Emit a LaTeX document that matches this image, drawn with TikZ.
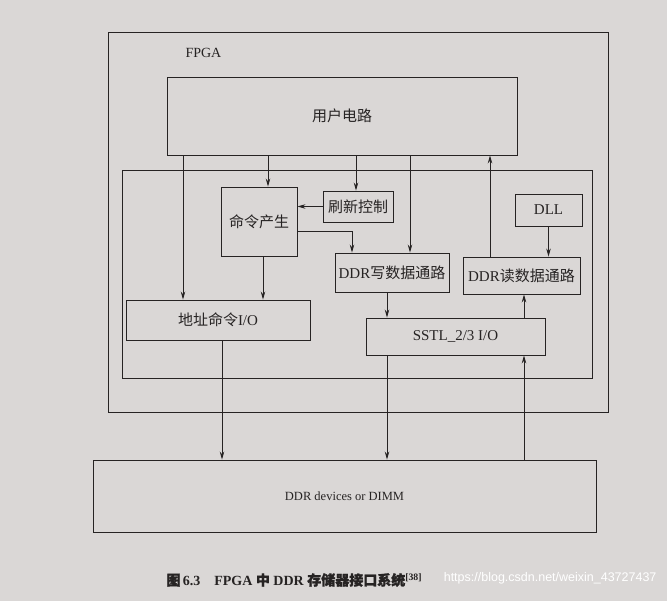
\documentclass[tikz,border=0pt]{standalone}
\usepackage{fontspec}
\setmainfont{Liberation Serif}
\newfontfamily\cjk{Noto Sans CJK SC}
\newfontfamily\cjkcap[FakeBold=1.5]{Noto Sans CJK SC}
\newfontfamily\markfont{Liberation Sans}
\usepackage{xcolor}
\usepackage{tikz}
\usetikzlibrary{positioning, arrows.meta, calc}

\definecolor{paper}{RGB}{218,215,214}
\definecolor{ink}{RGB}{38,35,35}

\tikzset{
  blk/.style={draw=ink, line width=0.9pt, inner sep=0pt, text=ink,
              font=\fontsize{15}{17}\selectfont},
  arr/.style={draw=ink, line width=0.9pt, -{Stealth[length=8pt, width=4.5pt]}},
}

\begin{document}
\begin{tikzpicture}[x=1pt, y=-1pt]

  %% ── Page ───────────────────────────────────────────────────
  \fill[paper] (0,0) rectangle (667,601);
  \useasboundingbox (0,0) rectangle (667,601);

  %% ── Frames ─────────────────────────────────────────────────
  \node[blk, minimum width=500, minimum height=380] (fpga) at (358,222) {};
  \node[font=\fontsize{14}{16}\selectfont, text=ink, anchor=west]
    (fpgalbl) at (182,53) {FPGA};
  \node[blk, minimum width=350, minimum height=78] (user) at (342,116)
    {\cjk 用户电路};
  \node[blk, minimum width=470, minimum height=208] (core) at (357,274) {};

  %% ── Blocks inside the controller ───────────────────────────
  \node[blk, minimum width=76, minimum height=69] (cmd) at (259,221.5)
    {\cjk 命令产生};
  \node[blk, minimum width=70, minimum height=31] (refresh) at (358,206.5)
    {\cjk 刷新控制};
  \node[blk, minimum width=114, minimum height=39] (wr) at (392,272.5)
    {DDR{\cjk 写数据通路}};
  \node[blk, minimum width=67, minimum height=32] (dll) at (548.5,210)
    {DLL};
  \node[blk, minimum width=117, minimum height=37] (rd) at (521.5,275.5)
    {DDR{\cjk 读数据通路}};
  \node[blk, minimum width=184, minimum height=40] (addr) at (218,320)
    {{\cjk 地址命令}I/O};
  \node[blk, minimum width=179, minimum height=37] (sstl) at (455.5,336.5)
    {SSTL\_2/3 I/O};

  %% ── Memory ─────────────────────────────────────────────────
  \node[blk, minimum width=503, minimum height=72,
        font=\fontsize{12.5}{15}\selectfont] (ddr) at (344.5,496)
    {DDR devices or DIMM};

  %% ── Wire columns ───────────────────────────────────────────
  \coordinate (ka) at (183,0);   % user -> addr
  \coordinate (kb) at (268,0);   % user -> cmd
  \coordinate (kc) at (356,0);   % user -> refresh
  \coordinate (kd) at (410,0);   % user -> wr
  \coordinate (ke) at (490,0);   % rd -> user
  \coordinate (kf) at (0,231);   % cmd -> wr (row)
  \coordinate (kg) at (352,0);   % cmd -> wr (column)
  \coordinate (kh) at (263,0);   % cmd -> addr
  \coordinate (ki) at (387,0);   % write path
  \coordinate (kj) at (524,0);   % read path
  \coordinate (kk) at (222,0);   % addr -> ddr

  %% ── Connectors ─────────────────────────────────────────────
  \draw[arr] (user.south -| ka) -- (addr.north -| ka);
  \draw[arr] (user.south -| kb) -- (cmd.north -| kb);
  \draw[arr] (user.south -| kc) -- (refresh.north -| kc);
  \draw[arr] (user.south -| kd) -- (wr.north -| kd);
  \draw[arr] (rd.north -| ke) -- (user.south -| ke);
  \draw[arr] (refresh.west) -- (cmd.east |- refresh.west);
  \draw[arr] (cmd.east |- kf) -| (wr.north -| kg);
  \draw[arr] (cmd.south -| kh) -- (addr.north -| kh);
  \draw[arr] (dll.south) -- (rd.north -| dll.south);
  \draw[arr] (wr.south -| ki) -- (sstl.north -| ki);
  \draw[arr] (sstl.north -| kj) -- (rd.south -| kj);
  \draw[arr] (addr.south -| kk) -- (ddr.north -| kk);
  \draw[arr] (sstl.south -| ki) -- (ddr.north -| ki);
  \draw[arr] (ddr.north -| kj) -- (sstl.south -| kj);

  %% ── Caption ────────────────────────────────────────────────
  \node[anchor=west, text=ink, font=\fontsize{14}{16}\selectfont\bfseries]
    (caption) at (163,580)
    {{\cjkcap 图}\,6.3\quad FPGA {\cjkcap 中} DDR {\cjkcap 存储器接口系统}\textsuperscript{[38]}};
  \node[anchor=east, text=white, font=\markfont\fontsize{12.5}{15}\selectfont]
    (mark) at (660,578) {https://blog.csdn.net/weixin\_43727437};

\end{tikzpicture}
\end{document}
